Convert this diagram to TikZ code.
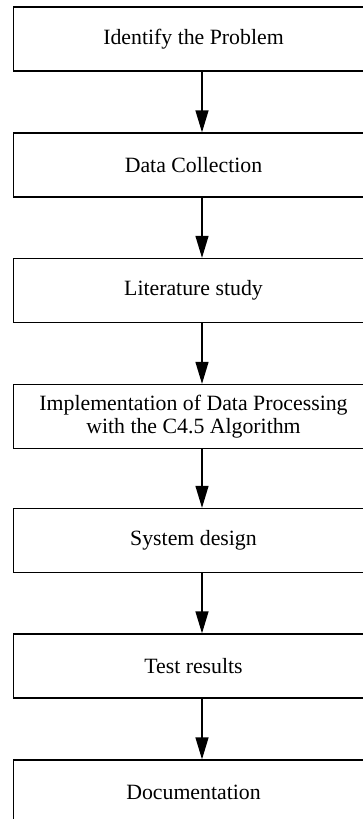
\documentclass[tikz,border=0pt]{standalone}
\usepackage{fontspec}
\setmainfont{Liberation Serif}
\usepackage{tikz}
\usetikzlibrary{arrows.meta}

\tikzset{
  stepbox/.style={draw, line width=1.3pt, minimum width=360pt, minimum height=64pt,
    align=center, inner sep=0pt, font=\fontsize{21.8}{22.6}\selectfont},
  flow/.style={line width=1.3pt, -{Triangle[length=22pt,width=13pt]}}
}

\begin{document}
\begin{tikzpicture}[x=1pt, y=-1pt]
		\useasboundingbox (0,0) rectangle (363,819);
				\node[stepbox] (problem) at (193.5, 39) {Identify the Problem};
				\node[stepbox] (collect) at (193.5, 165) {Data Collection};
				\node[stepbox] (literature) at (193.5, 290.5) {Literature study};
				\node[stepbox] (implement) at (193.5, 416.5) {Implementation of Data Processing\\with the C4.5 Algorithm};
				\node[stepbox] (design) at (193.5, 540.5) {System design};
				\node[stepbox] (results) at (193.5, 666) {Test results};
				\node[stepbox] (docs) at (193.5, 792) {Documentation};

				% arrows sit a little right of the box centre
				\draw [flow] ([xshift=8.5pt]problem.south) to ([xshift=8.5pt]collect.north);
				\draw [flow] ([xshift=8.5pt]collect.south) to ([xshift=8.5pt]literature.north);
				\draw [flow] ([xshift=8.5pt]literature.south) to ([xshift=8.5pt]implement.north);
				\draw [flow] ([xshift=8.5pt]implement.south) to ([xshift=8.5pt]design.north);
				\draw [flow] ([xshift=8.5pt]design.south) to ([xshift=8.5pt]results.north);
				\draw [flow] ([xshift=8.5pt]results.south) to ([xshift=8.5pt]docs.north);
		\end{tikzpicture}
\end{document}
